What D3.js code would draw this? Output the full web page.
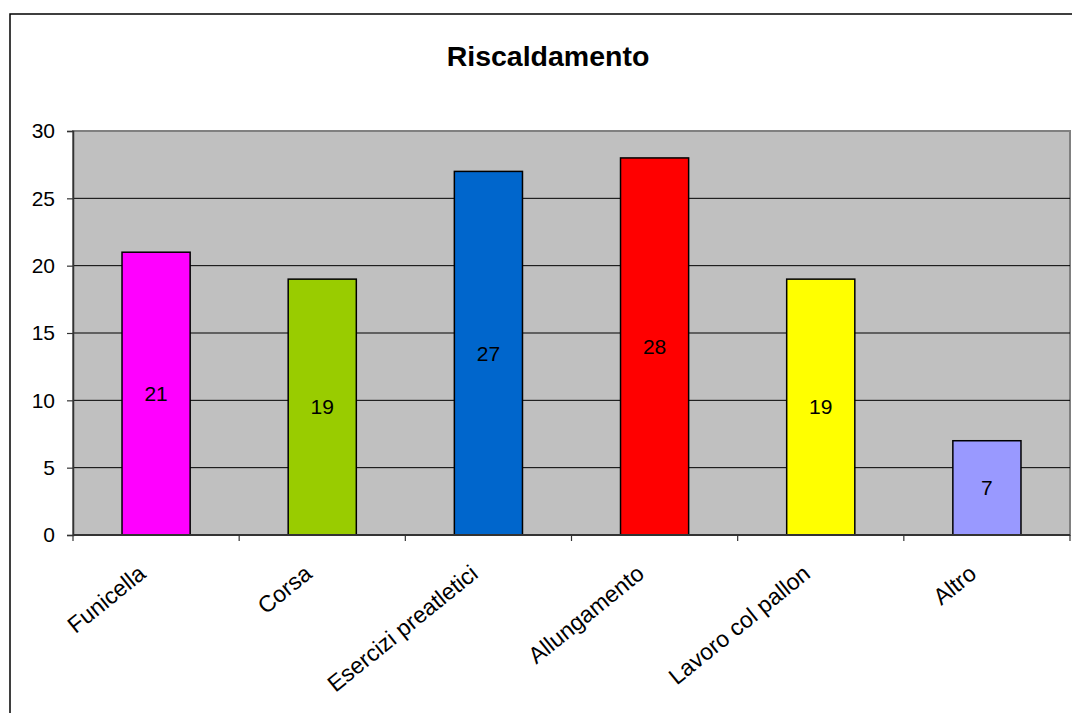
<!DOCTYPE html>
<html><head><meta charset="utf-8">
<script src="https://cdn.jsdelivr.net/npm/d3@7"></script>
<style>
html,body{margin:0;padding:0;background:#fff;}
svg text{font-family:"Liberation Sans",Arial,sans-serif;}
</style></head>
<body>
<svg id="chart" width="1072" height="713"></svg>
<script>
const categories = ["Funicella","Corsa","Esercizi preatletici","Allungamento","Lavoro col pallon","Altro"];
const values = [21,19,27,28,19,7];
const colors = ["#FF00FF","#99CC00","#0066CC","#FF0000","#FFFF00","#9999FF"];
const yTicks = [0,5,10,15,20,25,30];
const title = "Riscaldamento";

const svg = d3.select("#chart");
const L=73, R=1070, T=131, B=535;

// outer frame
svg.append("rect").attr("x",10).attr("y",14).attr("width",1080).attr("height",720)
  .attr("fill","#fff").attr("stroke","#000").attr("stroke-width",1.5);

svg.append("text").attr("x",548).attr("y",66).attr("text-anchor","middle")
  .attr("font-size",28.5).attr("font-weight","bold").text(title);

const x = d3.scaleBand().domain(categories).range([L,R]).paddingInner(0.59).paddingOuter(0.295);
const xb = d3.scaleBand().domain(categories).range([L,R]);
const y = d3.scaleLinear().domain([0,30]).range([B,T]);

// plot area
svg.append("rect").attr("x",L).attr("y",T).attr("width",R-L).attr("height",B-T)
  .attr("fill","#C0C0C0").attr("stroke","#808080").attr("stroke-width",2);

// gridlines
svg.append("g").selectAll("line").data(yTicks.filter(d=>d>0&&d<30)).join("line")
  .attr("x1",L).attr("x2",R).attr("y1",d=>y(d)).attr("y2",d=>y(d))
  .attr("stroke","#000").attr("stroke-width",1);

// bars
svg.append("g").selectAll("rect").data(values).join("rect")
  .attr("x",(d,i)=>x(categories[i])).attr("width",x.bandwidth())
  .attr("y",d=>y(d)).attr("height",d=>y(0)-y(d))
  .attr("fill",(d,i)=>colors[i]).attr("stroke","#000").attr("stroke-width",1.5);

// data labels
svg.append("g").selectAll("text").data(values).join("text")
  .attr("x",(d,i)=>x(categories[i])+x.bandwidth()/2)
  .attr("y",d=>(y(d)+y(0))/2).attr("dy","0.35em")
  .attr("text-anchor","middle").attr("font-size",21).text(d=>d);

// y axis
const yAxis = d3.axisLeft(y).tickValues(yTicks).tickSize(6).tickPadding(12);
const gy = svg.append("g").attr("transform",`translate(${L},0)`).call(yAxis);
gy.select(".domain").attr("stroke","#333").attr("stroke-width",1.5);
gy.selectAll(".tick line").attr("stroke","#333").attr("stroke-width",1.2);
gy.selectAll(".tick text").attr("font-size",21).attr("fill","#000").attr("font-family","Liberation Sans, Arial, sans-serif");

// x axis
const gx = svg.append("g").attr("transform",`translate(0,${B})`);
gx.append("line").attr("x1",L).attr("x2",R).attr("stroke","#333").attr("stroke-width",2);
const bounds = categories.map(c=>xb(c)).concat([R]);
gx.selectAll("line.tk").data(bounds).join("line").attr("class","tk")
  .attr("x1",d=>d).attr("x2",d=>d).attr("y1",0).attr("y2",6)
  .attr("stroke","#333").attr("stroke-width",1.2);
gx.selectAll("text").data(categories).join("text")
  .attr("transform",c=>`translate(${xb(c)+xb.bandwidth()/2-14},${35}) rotate(-39)`)
  .attr("text-anchor","end").attr("dy","0.35em").attr("font-size",23).text(c=>c);
</script>
</body></html>
